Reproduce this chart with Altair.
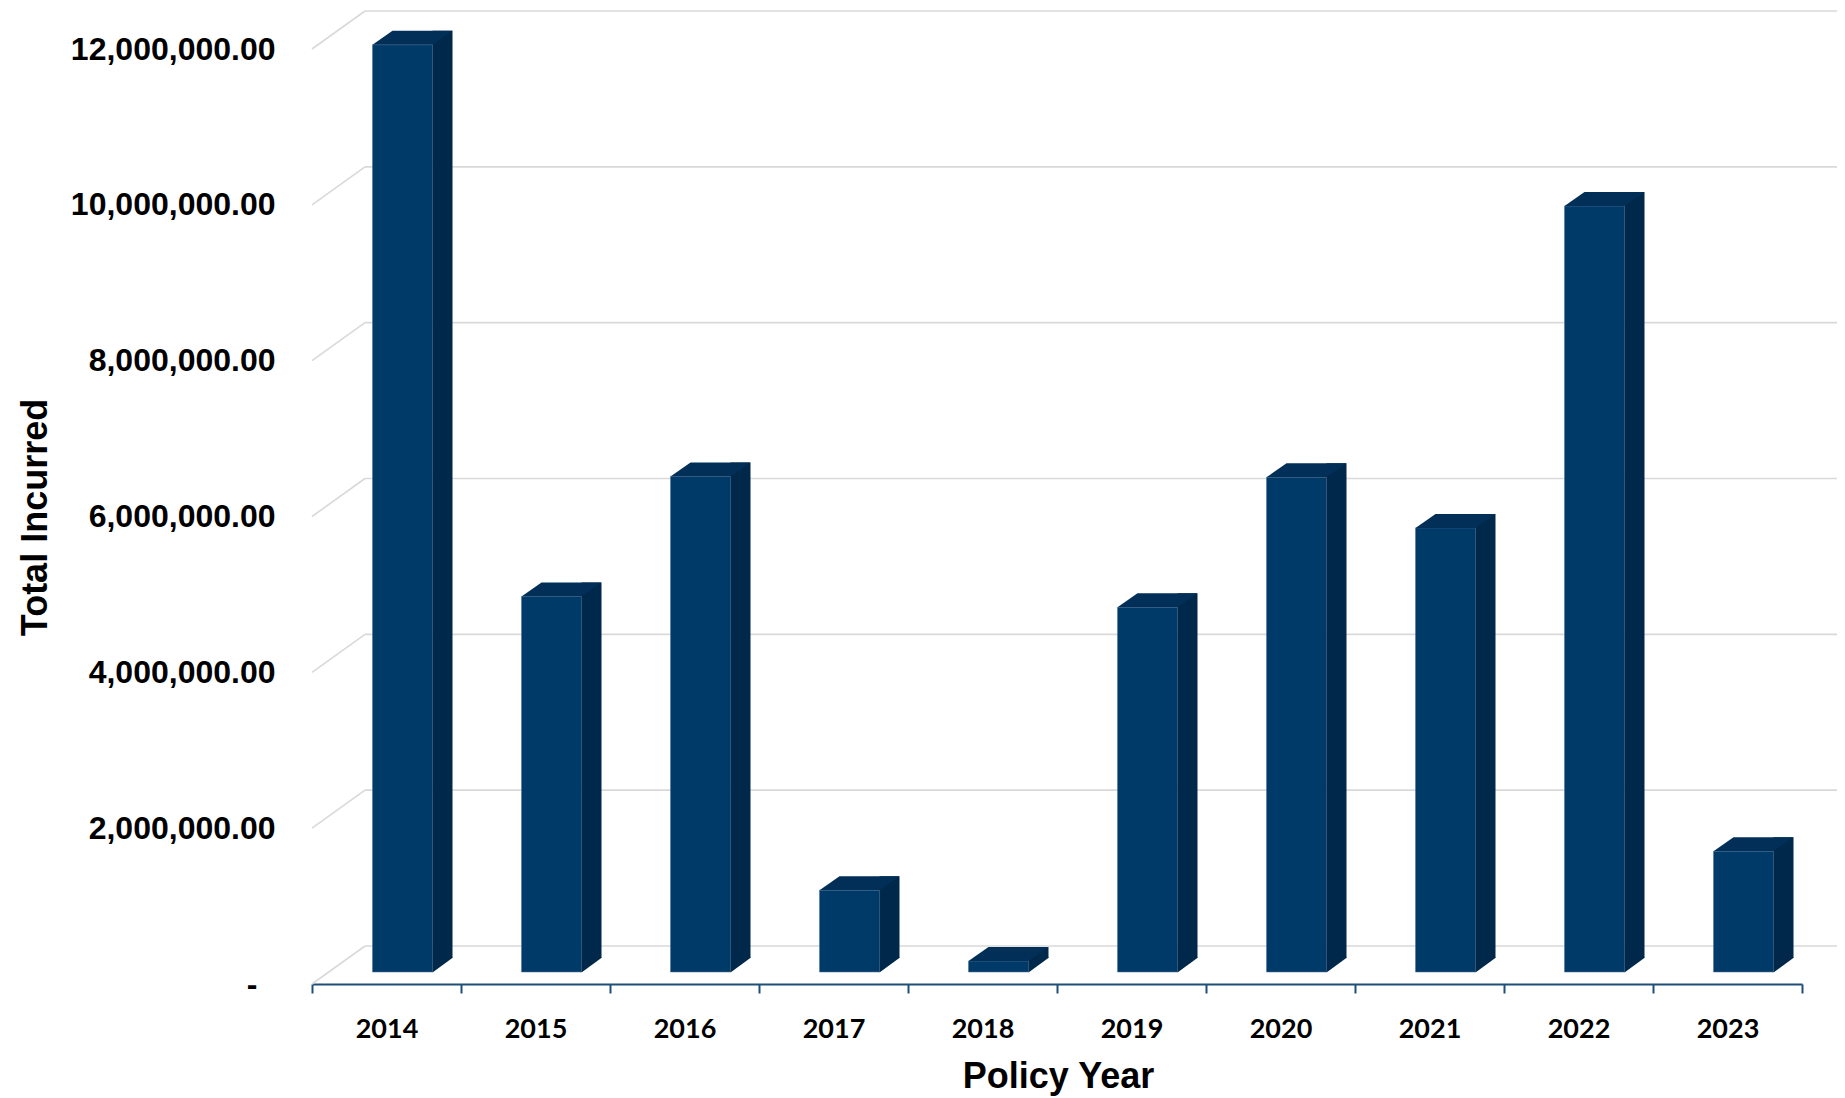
import altair as alt
import pandas as pd

# ---- data ----
years = ["2014", "2015", "2016", "2017", "2018", "2019", "2020", "2021", "2022", "2023"]
incurred = [11900000, 4820000, 6360000, 1050000, 140000, 4680000, 6350000, 5700000, 9830000, 1550000]
grid_values = [0, 2000000, 4000000, 6000000, 8000000, 10000000, 12000000]

df = pd.DataFrame({"year": years, "value": incurred, "base": [0] * len(years)})
grid_df = pd.DataFrame({"value": grid_values})

FRONT = "#003a68"
SIDE = "#00284a"
TOP = "#022f57"
GRID = "#d9d9d9"
AXIS = "#1f4e79"

W, H = 1490, 935
DEPTH_X, DEPTH_Y = 53, 38      # back-wall offset of the gridlines
BAR_DY = -12                   # bar floor sits slightly behind the front plane
FACE_W, FACE_OFF = 60, 16      # front face width and x offset from band centre
SIDE_W, SIDE_DY = 20, -14      # side face width and its vertical shift

yscale = alt.Scale(domain=[0, 12000000], nice=False, zero=True)
xscale = alt.Scale(domain=years, paddingInner=0, paddingOuter=0)

y_axis = alt.Axis(
    values=grid_values,
    labelExpr="datum.value == 0 ? '-' : format(datum.value, ',.2f')",
    labelFont="Liberation Sans",
    labelFontSize=32,
    labelFontWeight="bold",
    labelColor="black",
    labelPadding={"condition": {"test": "datum.value == 0", "value": 55}, "value": 37},
    labelLimit=0,
    domain=False,
    ticks=False,
    grid=False,
    title="Total Incurred",
    titleFont="Liberation Sans",
    titleFontSize=36,
    titleFontWeight="bold",
    titleColor="black",
    titleAngle=-90,
    titleAlign="center",
    titleBaseline="middle",
    titleX=-277,
    titleY=468,
)

x_axis = alt.Axis(
    labelAngle=0,
    labelFont="Lato",
    labelFontSize=27,
    labelFontWeight="bold",
    labelColor="black",
    labelPadding=23,
    tickBand="extent",
    tickColor=AXIS,
    tickWidth=2,
    tickSize=9,
    domainColor=AXIS,
    domainWidth=2,
    grid=False,
    title="Policy Year",
    titleFont="Liberation Sans",
    titleFontSize=36,
    titleFontWeight="bold",
    titleColor="black",
    titleBaseline="alphabetic",
    titleX=746,
    titleY=103,
)

y_enc = alt.Y("value:Q", scale=yscale, axis=y_axis)
x_enc = alt.X("year:N", scale=xscale, sort=years, axis=x_axis)

grid_back = alt.Chart(grid_df).mark_rule(color=GRID, strokeWidth=1.6, yOffset=-DEPTH_Y).encode(
    y=y_enc,
    x=alt.value(DEPTH_X),
    x2=alt.value(W + 60),
)

grid_diag = alt.Chart(grid_df).mark_rule(color=GRID, strokeWidth=1.6, yOffset=0, y2Offset=-DEPTH_Y).encode(
    y=y_enc,
    y2=alt.Y2("value:Q"),
    x=alt.value(0),
    x2=alt.value(DEPTH_X),
)

front = alt.Chart(df).mark_bar(
    size=FACE_W, xOffset=FACE_OFF, yOffset=BAR_DY, y2Offset=BAR_DY,
    color=FRONT, stroke="#4f739a", strokeWidth=0.8, strokeOpacity=0.7,
).encode(x=x_enc, y=y_enc, y2=alt.Y2("base:Q"))

side_x = FACE_OFF + FACE_W / 2 + SIDE_W / 2
side = alt.Chart(df).mark_bar(
    size=SIDE_W, xOffset=side_x, yOffset=BAR_DY + SIDE_DY, y2Offset=BAR_DY + SIDE_DY,
    color=SIDE,
).encode(x=x_enc, y=y_enc, y2=alt.Y2("base:Q"))

r = FACE_OFF + FACE_W / 2          # right edge of front face relative to band centre
l = FACE_OFF - FACE_W / 2          # left edge
tri_path = f"M{r},0.5L{r},{SIDE_DY - 0.5}L{r + SIDE_W + 0.5},{SIDE_DY - 0.5}Z"
top_path = f"M{l},0L{r},0L{r + SIDE_W},{SIDE_DY}L{l + SIDE_W},{SIDE_DY}Z"

side_bottom = alt.Chart(df).mark_point(
    shape=tri_path, size=4, filled=True, fill=SIDE, opacity=1, strokeWidth=0, yOffset=BAR_DY,
).encode(x=x_enc, y=alt.Y("base:Q", scale=yscale, axis=y_axis))

top = alt.Chart(df).mark_point(
    shape=top_path, size=4, filled=True, fill=TOP, opacity=1, strokeWidth=0, yOffset=BAR_DY,
).encode(x=x_enc, y=y_enc)

chart = (
    alt.layer(grid_back, grid_diag, front, side, side_bottom, top)
    .properties(
        width=W,
        height=H,
        padding={"left": 304, "top": 41, "right": 35, "bottom": 112},
        autosize=alt.AutoSizeParams(type="none"),
        background="white",
    )
    .configure_view(strokeWidth=0)
)

chart.save("out.html", embed_options={"renderer": "svg", "actions": False})
